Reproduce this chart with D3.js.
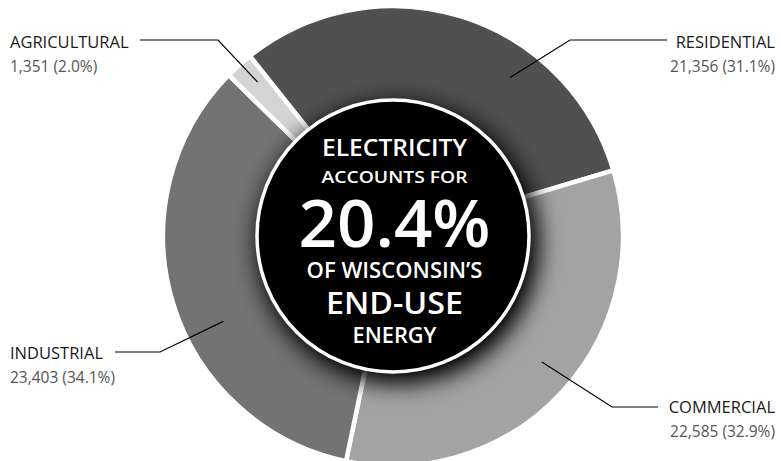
<!DOCTYPE html>
<html>
<head>
<meta charset="utf-8">
<script src="https://cdn.jsdelivr.net/npm/d3@7/dist/d3.min.js"></script>
<style>
  html, body { margin: 0; padding: 0; background: #fff; }
  svg { display: block; font-family: "Open Sans", "Noto Sans", sans-serif; }
</style>
</head>
<body>
<svg id="chart" width="781" height="461"></svg>
<script>
// ---- data ----
const categories = ["RESIDENTIAL", "COMMERCIAL", "INDUSTRIAL", "AGRICULTURAL"];
const values = [21356, 22585, 23403, 1351];
const valueLabels = ["21,356 (31.1%)", "22,585 (32.9%)", "23,403 (34.1%)", "1,351 (2.0%)"];
const colors = ["#505050", "#a3a3a3", "#737373", "#d4d4d4"];
const centerLines = ["ELECTRICITY", "ACCOUNTS FOR", "20.4%", "OF WISCONSIN\u2019S", "END-USE", "ENERGY"];

// ---- layout ----
const W = 781, H = 461;
const cx = 393, cy = 236;
const R = 230, r0 = 120, rCenter = 136;
const deg = Math.PI / 180;

const svg = d3.select("#chart");
const defs = svg.append("defs");
const f = defs.append("filter").attr("id", "shadow")
  .attr("x", "-50%").attr("y", "-50%").attr("width", "200%").attr("height", "200%");
f.append("feGaussianBlur").attr("in", "SourceAlpha").attr("stdDeviation", 12).attr("result", "b");
f.append("feOffset").attr("in", "b").attr("dx", 5).attr("dy", 7).attr("result", "o");
f.append("feComponentTransfer").attr("in", "o").append("feFuncA").attr("type", "linear").attr("slope", 1.1);

const pie = d3.pie().sort(null).value(d => d).startAngle(-38.5 * deg).endAngle(321.5 * deg);
const arcs = pie(values);
const arc = d3.arc().innerRadius(r0).outerRadius(R);

const g = svg.append("g").attr("transform", `translate(${cx},${cy})`);
g.selectAll("path.slice").data(arcs).enter().append("path")
  .attr("class", "slice")
  .attr("d", arc)
  .attr("fill", (d, i) => colors[i])
  .attr("stroke", "#fff")
  .attr("stroke-width", 4.5)
  .attr("stroke-linejoin", "miter");

// center disc with shadow
g.append("circle").attr("r", rCenter + 4).attr("fill", "#000").attr("filter", "url(#shadow)");
g.append("circle").attr("r", rCenter).attr("fill", "#000").attr("stroke", "#fff").attr("stroke-width", 3.5);

// center text
const centerSpec = [
  { y: 156, size: 22.5, w: 145 },
  { y: 183, size: 17, w: 146 },
  { y: 247, size: 65, w: 192 },
  { y: 278, size: 21, w: 176 },
  { y: 314, size: 30, w: 137 },
  { y: 343, size: 21, w: 84 }
];
centerLines.forEach((t, i) => {
  const s = centerSpec[i];
  svg.append("text")
    .attr("x", 394.5).attr("y", s.y)
    .attr("text-anchor", "middle")
    .attr("fill", "#fff")
    .attr("font-weight", 600)
    .attr("font-size", s.size)
    .attr("textLength", s.w)
    .attr("lengthAdjust", "spacingAndGlyphs")
    .text(t);
});

// labels with leader lines
const labelLayout = [
  { frac: 0.67, rad: 197, elbow: [570, 40], lineEnd: 667, tx: 775, anchor: "end", ty: 48 },
  { frac: 0.48, rad: 195, elbow: [612, 407], lineEnd: 658, tx: 775, anchor: "end", ty: 413 },
  { frac: 0.42, rad: 190, elbow: [160, 352], lineEnd: 115, tx: 10, anchor: "start", ty: 359 },
  { frac: 0.60, rad: 205, elbow: [218, 40], lineEnd: 140, tx: 10, anchor: "start", ty: 48 }
];
arcs.forEach((a, i) => {
  const L = labelLayout[i];
  const ang = a.startAngle + L.frac * (a.endAngle - a.startAngle);
  const px = cx + L.rad * Math.sin(ang);
  const py = cy - L.rad * Math.cos(ang);
  svg.append("path")
    .attr("d", d3.line()([[px, py], L.elbow, [L.lineEnd, L.elbow[1]]]))
    .attr("fill", "none").attr("stroke", "#000").attr("stroke-width", 1.2);
  svg.append("text")
    .attr("x", L.tx).attr("y", L.ty)
    .attr("text-anchor", L.anchor)
    .attr("fill", "#1a1a1a").attr("font-size", 16.5)
    .text(categories[i]);
  svg.append("text")
    .attr("x", L.tx).attr("y", L.ty + 23.5)
    .attr("text-anchor", L.anchor)
    .attr("fill", "#555").attr("font-size", 15.5)
    .text(valueLabels[i]);
});
</script>
</body>
</html>
